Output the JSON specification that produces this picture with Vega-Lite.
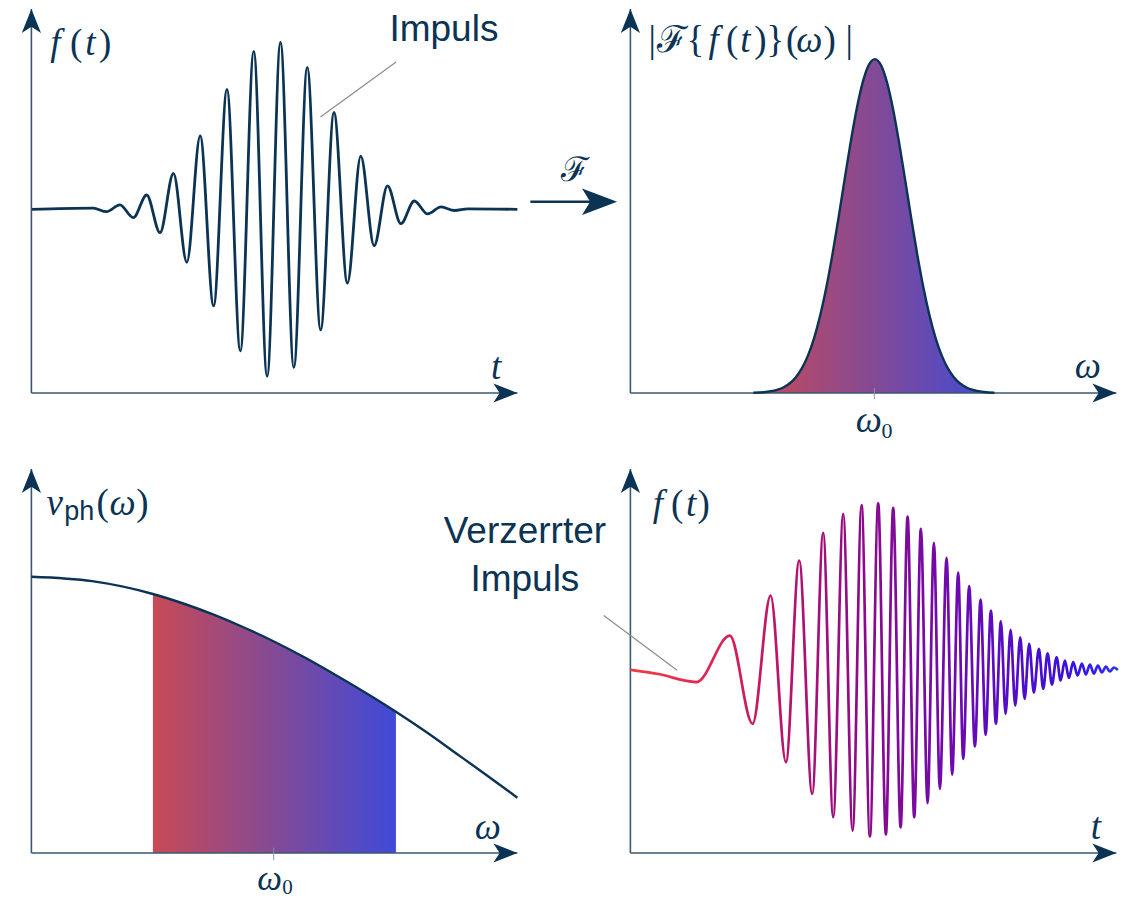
{
  "$schema": "https://vega.github.io/schema/vega-lite/v6.json",
  "background": "white",
  "padding": {"left": 21.4, "top": 8, "right": 0, "bottom": 14},
  "config": {
    "view": {"stroke": null},
    "axis": {"disable": true},
    "text": {"font": "Liberation Serif", "fontSize": 37, "fontStyle": "italic", "color": "#0b3354", "align": "center", "baseline": "alphabetic"}
  },
  "datasets": {
    "tl": [
      {"t": 0, "f": 0}, {"t": 1.271, "f": 0.007}, {"t": 1.546, "f": -0.014}, {"t": 1.821, "f": 0.027}, {"t": 2.097, "f": -0.05},
      {"t": 2.372, "f": 0.086}, {"t": 2.647, "f": -0.14}, {"t": 2.923, "f": 0.216}, {"t": 3.198, "f": -0.317}, {"t": 3.473, "f": 0.44},
      {"t": 3.749, "f": -0.578}, {"t": 4.024, "f": 0.719}, {"t": 4.299, "f": -0.848}, {"t": 4.575, "f": 0.946}, {"t": 4.85, "f": -0.999},
      {"t": 5.125, "f": 1.0}, {"t": 5.4, "f": -0.947}, {"t": 5.676, "f": 0.85}, {"t": 5.951, "f": -0.722}, {"t": 6.226, "f": 0.58},
      {"t": 6.502, "f": -0.442}, {"t": 6.777, "f": 0.319}, {"t": 7.052, "f": -0.218}, {"t": 7.327, "f": 0.141}, {"t": 7.603, "f": -0.086},
      {"t": 7.878, "f": 0.05}, {"t": 8.153, "f": -0.0275}, {"t": 8.429, "f": 0.0143}, {"t": 8.704, "f": -0.007}, {"t": 8.979, "f": 0.003},
      {"t": 10, "f": 0}
    ],
    "tr": [
      {"w": 2.53, "a": 0.0007}, {"w": 2.78, "a": 0.0029}, {"w": 3.03, "a": 0.0099}, {"w": 3.155, "a": 0.0173}, {"w": 3.28, "a": 0.0291},
      {"w": 3.405, "a": 0.0474}, {"w": 3.53, "a": 0.0744}, {"w": 3.655, "a": 0.1127}, {"w": 3.78, "a": 0.1646}, {"w": 3.905, "a": 0.2319},
      {"w": 4.03, "a": 0.3151}, {"w": 4.155, "a": 0.413}, {"w": 4.28, "a": 0.5223}, {"w": 4.405, "a": 0.6369}, {"w": 4.53, "a": 0.7492},
      {"w": 4.655, "a": 0.8501}, {"w": 4.78, "a": 0.9304}, {"w": 4.905, "a": 0.9821}, {"w": 5.03, "a": 1.0}, {"w": 5.155, "a": 0.9821},
      {"w": 5.28, "a": 0.9304}, {"w": 5.405, "a": 0.8501}, {"w": 5.53, "a": 0.7492}, {"w": 5.655, "a": 0.6369}, {"w": 5.78, "a": 0.5223},
      {"w": 5.905, "a": 0.413}, {"w": 6.03, "a": 0.3151}, {"w": 6.155, "a": 0.2319}, {"w": 6.28, "a": 0.1646}, {"w": 6.405, "a": 0.1127},
      {"w": 6.53, "a": 0.0744}, {"w": 6.655, "a": 0.0474}, {"w": 6.78, "a": 0.0291}, {"w": 6.905, "a": 0.0173}, {"w": 7.03, "a": 0.0099},
      {"w": 7.28, "a": 0.0029}, {"w": 7.49, "a": 0.0008}
    ],
    "bl": [
      {"w": 0, "v": 5.756}, {"w": 1.25, "v": 5.663}, {"w": 2.5, "v": 5.396}, {"w": 3.125, "v": 5.198}, {"w": 3.75, "v": 4.965},
      {"w": 4.375, "v": 4.698}, {"w": 5, "v": 4.402}, {"w": 5.625, "v": 4.073}, {"w": 6.25, "v": 3.715}, {"w": 6.875, "v": 3.34},
      {"w": 7.5, "v": 2.944}, {"w": 8.125, "v": 2.521}, {"w": 8.75, "v": 2.069}, {"w": 9.375, "v": 1.615}, {"w": 10, "v": 1.152}
    ],
    "br": [
      {"t": 0.004, "f": -0.003}, {"t": 0.572, "f": -0.028}, {"t": 1.362, "f": -0.076}, {"t": 2.047, "f": 0.202}, {"t": 2.514, "f": -0.326},
      {"t": 2.885, "f": 0.442}, {"t": 3.2, "f": -0.556}, {"t": 3.473, "f": 0.652}, {"t": 3.741, "f": -0.746}, {"t": 3.967, "f": 0.818},
      {"t": 4.173, "f": -0.886}, {"t": 4.379, "f": 0.931}, {"t": 4.572, "f": -0.966}, {"t": 4.757, "f": 0.984}, {"t": 4.928, "f": -1.001},
      {"t": 5.099, "f": 0.995}, {"t": 5.257, "f": -0.989}, {"t": 5.407, "f": 0.967}, {"t": 5.56, "f": -0.946}, {"t": 5.704, "f": 0.915},
      {"t": 5.84, "f": -0.886}, {"t": 5.977, "f": 0.842}, {"t": 6.115, "f": -0.802}, {"t": 6.245, "f": 0.758}, {"t": 6.368, "f": -0.716},
      {"t": 6.506, "f": 0.668}, {"t": 6.621, "f": -0.63}, {"t": 6.745, "f": 0.58}, {"t": 6.848, "f": -0.536}, {"t": 6.971, "f": 0.498},
      {"t": 7.088, "f": -0.462}, {"t": 7.206, "f": 0.418}, {"t": 7.309, "f": -0.391}, {"t": 7.418, "f": 0.352}, {"t": 7.521, "f": -0.326},
      {"t": 7.623, "f": 0.288}, {"t": 7.72, "f": -0.267}, {"t": 7.823, "f": 0.237}, {"t": 7.918, "f": -0.217}, {"t": 8.021, "f": 0.192},
      {"t": 8.111, "f": -0.177}, {"t": 8.206, "f": 0.153}, {"t": 8.302, "f": -0.139}, {"t": 8.405, "f": 0.123}, {"t": 8.494, "f": -0.117},
      {"t": 8.584, "f": 0.096}, {"t": 8.673, "f": -0.091}, {"t": 8.77, "f": 0.072}, {"t": 8.852, "f": -0.067}, {"t": 8.94, "f": 0.053},
      {"t": 9.023, "f": -0.051}, {"t": 9.111, "f": 0.043}, {"t": 9.202, "f": -0.037}, {"t": 9.29, "f": 0.035}, {"t": 9.372, "f": -0.031},
      {"t": 9.455, "f": 0.029}, {"t": 9.537, "f": -0.025}, {"t": 9.619, "f": 0.023}, {"t": 9.702, "f": -0.019}, {"t": 9.784, "f": 0.017},
      {"t": 9.866, "f": -0.013}, {"t": 9.949, "f": 0.011}, {"t": 10.03, "f": -0.004}
    ]
  },
  "columns": 2,
  "spacing": {"row": 76, "column": 113},
  "bounds": "flush",
  "concat": [
    {
      "width": 486, "height": 384,
      "data": {"values": [{}]},
      "layer": [
        {"data": {"name": "tl"}, "mark": {"type": "line", "interpolate": "monotone", "color": "#0b3354", "strokeWidth": 2.8},
         "encoding": {"x": {"field": "t", "type": "quantitative", "scale": {"domain": [0, 10], "nice": false, "zero": false}},
                      "y": {"field": "f", "type": "quantitative", "scale": {"domain": [-1.1, 1.2], "nice": false, "zero": false}}}},
        {"mark": {"type": "rule", "color": "#3a5872", "strokeWidth": 1.6}, "encoding": {"x": {"datum": 0}, "x2": {"datum": 10}, "y": {"datum": -1.1}}},
        {"mark": {"type": "rule", "color": "#3a5872", "strokeWidth": 1.6}, "encoding": {"x": {"datum": 0}, "y": {"datum": -1.1}, "y2": {"datum": 1.2}}},
        {"mark": {"type": "point", "shape": "M0,0 L-1,-0.4 L-0.74,0 L-1,0.4 Z", "size": 2304, "filled": true, "color": "#0b3354", "opacity": 1, "strokeWidth": 0}, "encoding": {"x": {"datum": 10}, "y": {"datum": -1.1}}},
        {"mark": {"type": "point", "shape": "M0,0 L-0.4,1 L0,0.74 L0.4,1 Z", "size": 2304, "filled": true, "color": "#0b3354", "opacity": 1, "strokeWidth": 0}, "encoding": {"x": {"datum": 0}, "y": {"datum": 1.2}}},
        {"mark": {"type": "rule", "color": "#8c8c8c", "strokeWidth": 1.2}, "encoding": {"x": {"datum": 5.947}, "y": {"datum": 0.553}, "x2": {"datum": 7.504}, "y2": {"datum": 0.8825}}},
        {"mark": {"type": "rule", "color": "#0b3354", "strokeWidth": 2.5}, "encoding": {"x": {"datum": 10.267}, "x2": {"datum": 11.95}, "y": {"datum": 0.0458}}},
        {"mark": {"type": "point", "shape": "M0,0 L-1,-0.38 L-0.77,0 L-1,0.38 Z", "size": 4900, "filled": true, "color": "#0b3354", "opacity": 1, "strokeWidth": 0}, "encoding": {"x": {"datum": 12.051}, "y": {"datum": 0.0458}}},
        {"mark": {"type": "text", "text": "ℱ", "fontStyle": "normal", "fontSize": 34}, "encoding": {"x": {"datum": 11.193}, "y": {"datum": 0.17}}},
        {"mark": {"type": "text", "text": "Impuls", "font": "Liberation Sans", "fontStyle": "normal", "fontSize": 37}, "encoding": {"x": {"datum": 8.488}, "y": {"datum": 1.008}}},
        {"mark": {"type": "text", "text": "f"}, "encoding": {"x": {"datum": 0.494}, "y": {"datum": 0.924}}},
        {"mark": {"type": "text", "text": "(", "fontStyle": "normal"}, "encoding": {"x": {"datum": 0.922}, "y": {"datum": 0.924}}},
        {"mark": {"type": "text", "text": "t"}, "encoding": {"x": {"datum": 1.214}, "y": {"datum": 0.924}}},
        {"mark": {"type": "text", "text": ")", "fontStyle": "normal"}, "encoding": {"x": {"datum": 1.516}, "y": {"datum": 0.924}}},
        {"mark": {"type": "text", "text": "t"}, "encoding": {"x": {"datum": 9.564}, "y": {"datum": -1.016}}}
      ]
    },
    {
      "width": 486, "height": 384,
      "data": {"values": [{}]},
      "layer": [
        {"data": {"name": "tr"}, "mark": {"type": "area", "interpolate": "monotone", "color": {"gradient": "linear", "x1": 0, "y1": 0, "x2": 1, "y2": 0, "stops": [{"offset": 0, "color": "#c84a55"}, {"offset": 1, "color": "#3f4ad8"}]}},
         "encoding": {"x": {"field": "w", "type": "quantitative", "scale": {"domain": [0, 10], "nice": false, "zero": false}},
                      "y": {"field": "a", "type": "quantitative", "scale": {"domain": [0, 1.15], "nice": false, "zero": false}},
                      "y2": {"datum": 0}}},
        {"mark": {"type": "rule", "color": "#3a5872", "strokeWidth": 1.6}, "encoding": {"x": {"datum": 0}, "x2": {"datum": 10}, "y": {"datum": 0}}},
        {"mark": {"type": "rule", "color": "#3a5872", "strokeWidth": 1.6}, "encoding": {"x": {"datum": 0}, "y": {"datum": 0}, "y2": {"datum": 1.15}}},
        {"data": {"name": "tr"}, "mark": {"type": "line", "interpolate": "monotone", "color": "#0b3354", "strokeWidth": 2.4},
         "encoding": {"x": {"field": "w", "type": "quantitative"}, "y": {"field": "a", "type": "quantitative"}}},
        {"mark": {"type": "rule", "color": "#8896a4", "strokeWidth": 1}, "encoding": {"x": {"datum": 5.02}, "y": {"datum": -0.018}, "y2": {"datum": 0.015}}},
        {"mark": {"type": "point", "shape": "M0,0 L-1,-0.4 L-0.74,0 L-1,0.4 Z", "size": 2304, "filled": true, "color": "#0b3354", "opacity": 1, "strokeWidth": 0}, "encoding": {"x": {"datum": 10}, "y": {"datum": 0}}},
        {"mark": {"type": "point", "shape": "M0,0 L-0.4,1 L0,0.74 L0.4,1 Z", "size": 2304, "filled": true, "color": "#0b3354", "opacity": 1, "strokeWidth": 0}, "encoding": {"x": {"datum": 0}, "y": {"datum": 1.15}}},
        {"mark": {"type": "text", "text": "|", "fontStyle": "normal"}, "encoding": {"x": {"datum": 0.4465}, "y": {"datum": 1.0213}}},
        {"mark": {"type": "text", "text": "ℱ", "fontStyle": "normal"}, "encoding": {"x": {"datum": 0.858}, "y": {"datum": 1.0213}}},
        {"mark": {"type": "text", "text": "{", "fontStyle": "normal"}, "encoding": {"x": {"datum": 1.337}, "y": {"datum": 1.0213}}},
        {"mark": {"type": "text", "text": "f"}, "encoding": {"x": {"datum": 1.714}, "y": {"datum": 1.0213}}},
        {"mark": {"type": "text", "text": "(", "fontStyle": "normal"}, "encoding": {"x": {"datum": 2.093}, "y": {"datum": 1.0213}}},
        {"mark": {"type": "text", "text": "t"}, "encoding": {"x": {"datum": 2.366}, "y": {"datum": 1.0213}}},
        {"mark": {"type": "text", "text": ")", "fontStyle": "normal"}, "encoding": {"x": {"datum": 2.675}, "y": {"datum": 1.0213}}},
        {"mark": {"type": "text", "text": "}", "fontStyle": "normal"}, "encoding": {"x": {"datum": 2.984}, "y": {"datum": 1.0213}}},
        {"mark": {"type": "text", "text": "(", "fontStyle": "normal"}, "encoding": {"x": {"datum": 3.327}, "y": {"datum": 1.0213}}},
        {"mark": {"type": "text", "text": "ω"}, "encoding": {"x": {"datum": 3.683}, "y": {"datum": 1.0213}}},
        {"mark": {"type": "text", "text": ")", "fontStyle": "normal"}, "encoding": {"x": {"datum": 4.1}, "y": {"datum": 1.0213}}},
        {"mark": {"type": "text", "text": "|", "fontStyle": "normal"}, "encoding": {"x": {"datum": 4.5}, "y": {"datum": 1.0213}}},
        {"mark": {"type": "text", "text": "ω"}, "encoding": {"x": {"datum": 9.414}, "y": {"datum": 0.045}}},
        {"mark": {"type": "text", "text": "ω"}, "encoding": {"x": {"datum": 4.904}, "y": {"datum": -0.1159}}},
        {"mark": {"type": "text", "text": "0", "fontStyle": "normal", "fontSize": 22}, "encoding": {"x": {"datum": 5.282}, "y": {"datum": -0.1339}}}
      ]
    },
    {
      "width": 486, "height": 384,
      "data": {"values": [{}]},
      "layer": [
        {"data": {"name": "bl"}, "transform": [{"filter": "datum.w >= 2.5 && datum.w <= 7.5"}],
         "mark": {"type": "area", "interpolate": "monotone", "color": {"gradient": "linear", "x1": 0, "y1": 0, "x2": 1, "y2": 0, "stops": [{"offset": 0, "color": "#c84a55"}, {"offset": 1, "color": "#3f4ad8"}]}},
         "encoding": {"x": {"field": "w", "type": "quantitative", "scale": {"domain": [0, 10], "nice": false, "zero": false}},
                      "y": {"field": "v", "type": "quantitative", "scale": {"domain": [0, 8], "nice": false, "zero": false}},
                      "y2": {"datum": 0}}},
        {"mark": {"type": "rule", "color": "#3a5872", "strokeWidth": 1.6}, "encoding": {"x": {"datum": 0}, "x2": {"datum": 10}, "y": {"datum": 0}}},
        {"mark": {"type": "rule", "color": "#3a5872", "strokeWidth": 1.6}, "encoding": {"x": {"datum": 0}, "y": {"datum": 0}, "y2": {"datum": 8}}},
        {"data": {"name": "bl"}, "mark": {"type": "line", "interpolate": "monotone", "color": "#0b3354", "strokeWidth": 2.4},
         "encoding": {"x": {"field": "w", "type": "quantitative"}, "y": {"field": "v", "type": "quantitative"}}},
        {"mark": {"type": "rule", "color": "#8896a4", "strokeWidth": 1}, "encoding": {"x": {"datum": 4.986}, "y": {"datum": -0.152}, "y2": {"datum": 0.11}}},
        {"mark": {"type": "point", "shape": "M0,0 L-1,-0.4 L-0.74,0 L-1,0.4 Z", "size": 2304, "filled": true, "color": "#0b3354", "opacity": 1, "strokeWidth": 0}, "encoding": {"x": {"datum": 10}, "y": {"datum": 0}}},
        {"mark": {"type": "point", "shape": "M0,0 L-0.4,1 L0,0.74 L0.4,1 Z", "size": 2304, "filled": true, "color": "#0b3354", "opacity": 1, "strokeWidth": 0}, "encoding": {"x": {"datum": 0}, "y": {"datum": 8}}},
        {"mark": {"type": "text", "text": "v"}, "encoding": {"x": {"datum": 0.477}, "y": {"datum": 7.042}}},
        {"mark": {"type": "text", "text": "ph", "font": "Liberation Sans", "fontStyle": "normal", "fontSize": 27}, "encoding": {"x": {"datum": 0.984}, "y": {"datum": 6.931}}},
        {"mark": {"type": "text", "text": "(", "fontStyle": "normal"}, "encoding": {"x": {"datum": 1.467}, "y": {"datum": 7.042}}},
        {"mark": {"type": "text", "text": "ω"}, "encoding": {"x": {"datum": 1.877}, "y": {"datum": 7.042}}},
        {"mark": {"type": "text", "text": ")", "fontStyle": "normal"}, "encoding": {"x": {"datum": 2.284}, "y": {"datum": 7.042}}},
        {"mark": {"type": "text", "text": "ω"}, "encoding": {"x": {"datum": 9.393}, "y": {"datum": 0.292}}},
        {"mark": {"type": "text", "text": "ω", "fontSize": 35}, "encoding": {"x": {"datum": 4.901}, "y": {"datum": -0.765}}},
        {"mark": {"type": "text", "text": "0", "fontStyle": "normal", "fontSize": 21}, "encoding": {"x": {"datum": 5.27}, "y": {"datum": -0.844}}}
      ]
    },
    {
      "width": 486, "height": 384,
      "data": {"values": [{}]},
      "layer": [
        {"mark": {"type": "rule", "color": "#3a5872", "strokeWidth": 1.6}, "encoding": {"x": {"datum": 0}, "x2": {"datum": 10}, "y": {"datum": -1.1}}},
        {"mark": {"type": "rule", "color": "#3a5872", "strokeWidth": 1.6}, "encoding": {"x": {"datum": 0}, "y": {"datum": -1.1}, "y2": {"datum": 1.2}}},
        {"data": {"name": "br"}, "mark": {"type": "line", "interpolate": "monotone", "strokeWidth": 2.7,
          "color": {"gradient": "linear", "x1": 0, "y1": 0, "x2": 1, "y2": 0, "stops": [
            {"offset": 0, "color": "#f23a48"}, {"offset": 0.15, "color": "#e22850"}, {"offset": 0.3, "color": "#bd1468"},
            {"offset": 0.47, "color": "#8e0a8a"}, {"offset": 0.68, "color": "#6a0ab2"}, {"offset": 0.9, "color": "#3a10dc"}, {"offset": 1, "color": "#2a30f8"}]}},
         "encoding": {"x": {"field": "t", "type": "quantitative", "scale": {"domain": [0, 10], "nice": false, "zero": false}},
                      "y": {"field": "f", "type": "quantitative", "scale": {"domain": [-1.1, 1.2], "nice": false, "zero": false}}}},
        {"mark": {"type": "point", "shape": "M0,0 L-1,-0.4 L-0.74,0 L-1,0.4 Z", "size": 2304, "filled": true, "color": "#0b3354", "opacity": 1, "strokeWidth": 0}, "encoding": {"x": {"datum": 10}, "y": {"datum": -1.1}}},
        {"mark": {"type": "point", "shape": "M0,0 L-0.4,1 L0,0.74 L0.4,1 Z", "size": 2304, "filled": true, "color": "#0b3354", "opacity": 1, "strokeWidth": 0}, "encoding": {"x": {"datum": 0}, "y": {"datum": 1.2}}},
        {"mark": {"type": "rule", "color": "#8c8c8c", "strokeWidth": 1.2}, "encoding": {"x": {"datum": -0.549}, "y": {"datum": 0.323}, "x2": {"datum": 0.961}, "y2": {"datum": -0.006}}},
        {"mark": {"type": "text", "text": "Verzerrter\nImpuls", "lineBreak": "\n", "lineHeight": 48, "font": "Liberation Sans", "fontStyle": "normal", "fontSize": 37}, "encoding": {"x": {"datum": -2.171}, "y": {"datum": 0.758}}},
        {"mark": {"type": "text", "text": "f"}, "encoding": {"x": {"datum": 0.566}, "y": {"datum": 0.921}}},
        {"mark": {"type": "text", "text": "(", "fontStyle": "normal"}, "encoding": {"x": {"datum": 0.961}, "y": {"datum": 0.921}}},
        {"mark": {"type": "text", "text": "t"}, "encoding": {"x": {"datum": 1.251}, "y": {"datum": 0.921}}},
        {"mark": {"type": "text", "text": ")", "fontStyle": "normal"}, "encoding": {"x": {"datum": 1.508}, "y": {"datum": 0.921}}},
        {"mark": {"type": "text", "text": "t"}, "encoding": {"x": {"datum": 9.578}, "y": {"datum": -1.016}}}
      ]
    }
  ]
}
